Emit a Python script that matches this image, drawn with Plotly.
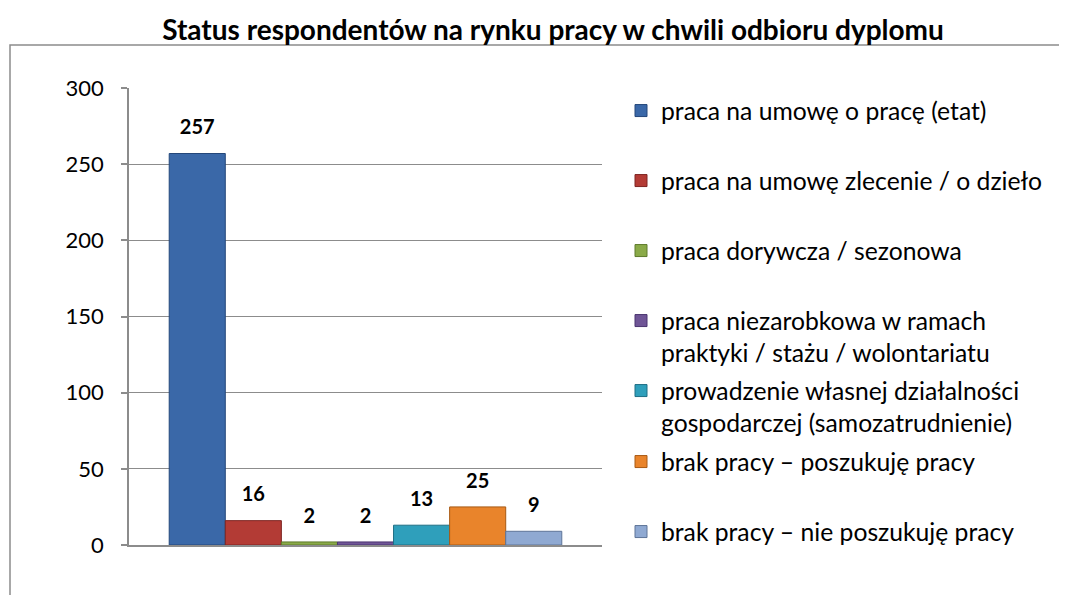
import plotly.graph_objects as go

title = "Status respondentów na rynku pracy w chwili odbioru dyplomu"
categories = [
    "praca na umowę o pracę (etat)",
    "praca na umowę zlecenie / o dzieło",
    "praca dorywcza / sezonowa",
    "praca niezarobkowa w ramach<br>praktyki / stażu / wolontariatu",
    "prowadzenie własnej działalności<br>gospodarczej (samozatrudnienie)",
    "brak pracy – poszukuję pracy",
    "brak pracy – nie poszukuję pracy",
]
values = [257, 16, 2, 2, 13, 25, 9]
colors = ["#3A68A8", "#B33B35", "#8AAA48", "#6F5596", "#2F9FBB", "#E9842B", "#8FA9D2"]
edge_colors = ["#24477A", "#7E2522", "#5E7A2C", "#4B3570", "#1F6F85", "#A85A14", "#5E7498"]
y_ticks = [0, 50, 100, 150, 200, 250, 300]
# legend first-line centres (page pixels from top)
legend_px = [112, 182, 252, 322, 392, 463, 533]

FONT = "Lato"
OFF = 8  # browser body margin
W, H = 1067 - OFF, 595 - OFF
plot_top, plot_bottom = 88 - OFF, 545 - OFF
plot_left, plot_right = 129 - OFF, 602 - OFF
ph = plot_bottom - plot_top
pw = plot_right - plot_left

def px_x(p):
    return (p - OFF - plot_left) / pw

def px_y(p):
    return (plot_bottom - (p - OFF)) / ph

fig = go.Figure()
for i, (name, v) in enumerate(zip(categories, values)):
    lg = "legend" if i == 0 else f"legend{i+1}"
    fig.add_trace(go.Bar(
        x=["status"], y=[v], name=name,
        marker=dict(color=colors[i], line=dict(color=edge_colors[i], width=1)),
        texttemplate="<span style='font-size:20px'><b>%{y}</b></span><br> ",
        textposition="outside",
        textfont=dict(family=FONT, size=11, color="#000000"),
        cliponaxis=False,
        legend=lg,
        hoverinfo="skip",
    ))

layout_legends = {}
for i, py in enumerate(legend_px):
    key = "legend" if i == 0 else f"legend{i+1}"
    layout_legends[key] = dict(
        x=px_x(621),
        xanchor="left",
        y=px_y(py - 24),
        yanchor="top",
        valign="top",
        bgcolor="rgba(0,0,0,0)",
        font=dict(family=FONT, size=24.7, color="#000000"),
    )

fig.update_layout(
    width=W, height=H,
    margin=dict(l=plot_left, r=W - plot_right, t=plot_top, b=H - plot_bottom, pad=0),
    paper_bgcolor="white", plot_bgcolor="white",
    barmode="group", bargap=0.17, bargroupgap=0,
    title=dict(text="<b>" + title + "</b>", x=(553 - OFF) / W, xanchor="center",
               y=1 - (30 - OFF) / H, yanchor="middle",
               font=dict(family=FONT, size=28, color="#000000")),
    showlegend=True,
    xaxis=dict(showticklabels=False, showgrid=False, showline=True,
               linecolor="#8C8C8C", linewidth=2, ticks="", zeroline=False),
    yaxis=dict(range=[0, 300], tickvals=y_ticks, showgrid=True, gridcolor="#8C8C8C",
               gridwidth=1.3, showline=True, linecolor="#8C8C8C", linewidth=1.5,
               ticks="outside", ticklen=6, tickcolor="#8C8C8C", tickwidth=1.5,
               ticklabelstandoff=13, zeroline=False,
               tickfont=dict(family=FONT, size=22, color="#000000")),
    font=dict(family=FONT),
    shapes=[dict(type="rect", xref="paper", yref="paper",
                 x0=px_x(10), x1=px_x(1080),
                 y0=px_y(620), y1=px_y(45),
                 line=dict(color="#8C8C8C", width=1.5), fillcolor="rgba(0,0,0,0)",
                 layer="below")],
    **layout_legends,
)

fig.write_html("out.html")
